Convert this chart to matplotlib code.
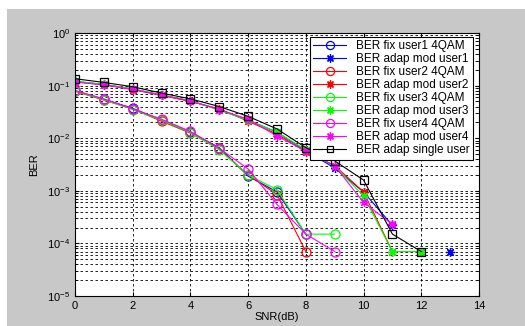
import numpy as np
import matplotlib
matplotlib.use("Agg")
import matplotlib.pyplot as plt
from matplotlib.patches import Rectangle

plt.rcParams['font.family'] = ['Liberation Sans', 'DejaVu Sans']
plt.rcParams['mathtext.default'] = 'regular'

nan = np.nan
snr = np.arange(0, 14)

# BER, fixed 4QAM per user
fix_u1 = [0.080, 0.055, 0.037, 0.022, 0.0130, 0.0066, 0.0019, 0.00095, 0.00015, nan, nan, nan, nan, nan]
fix_u2 = [0.078, 0.053, 0.036, 0.021, 0.0125, 0.0062, 0.0020, 0.00085, 0.00007, nan, nan, nan, nan, nan]
fix_u3 = [0.079, 0.054, 0.035, 0.022, 0.0128, 0.0060, 0.0020, 0.00105, 0.00015, 0.00015, nan, nan, nan, nan]
fix_u4 = [0.081, 0.056, 0.036, 0.023, 0.0135, 0.0064, 0.0026, 0.00055, 0.00015, 0.00007, nan, nan, nan, nan]

# BER, adaptive modulation per user
adap_u1 = [0.120, 0.105, 0.086, 0.066, 0.051, 0.035, 0.022, 0.013, 0.0058, 0.0027, 0.00095, 0.00022, nan, 0.00007]
adap_u2 = [0.118, 0.104, 0.084, 0.065, 0.050, 0.036, 0.021, 0.012, 0.0055, 0.0030, 0.00095, 0.00007, 0.00007, nan]
adap_u3 = [0.121, 0.106, 0.087, 0.067, 0.052, 0.034, 0.022, 0.013, 0.0060, 0.0029, 0.00080, 0.00007, 0.00007, nan]
adap_u4 = [0.117, 0.103, 0.085, 0.066, 0.051, 0.035, 0.023, 0.011, 0.0057, 0.0030, 0.00060, 0.00023, nan, nan]

# BER, adaptive single user
single = [0.135, 0.115, 0.095, 0.072, 0.056, 0.040, 0.026, 0.015, 0.0066, 0.0037, 0.0016, 0.00015, 0.00007, nan]

labels = ["BER fix user1 4QAM", "BER adap mod user1",
          "BER fix user2 4QAM", "BER adap mod user2",
          "BER fix user3 4QAM", "BER adap mod user3",
          "BER fix user4 4QAM", "BER adap mod user4",
          "BER adap single user"]

fig = plt.figure(figsize=(5.25, 3.26), dpi=100, facecolor='white')
fig.patches.append(Rectangle((7/525, 0), 1, 1 - 9/326, transform=fig.transFigure,
                             facecolor='#c8c8c8', edgecolor='none', zorder=-10))
ax = fig.add_axes([75/525, 1 - 296/326, 404/525, 263/326])
ax.set_facecolor('white')

star = (8, 2, 0)  # matlab-style asterisk
series = [(fix_u1, 'b', 'o'), (adap_u1, 'b', star),
          (fix_u2, 'r', 'o'), (adap_u2, 'r', star),
          (fix_u3, '#00ff00', 'o'), (adap_u3, '#00ff00', star),
          (fix_u4, '#ff00ff', 'o'), (adap_u4, '#ff00ff', star),
          (single, 'k', 's')]

for (vals, c, m), lab in zip(series, labels):
    ax.semilogy(snr, vals, color=c, marker=m, lw=0.8, ms=5.5 if m == 's' else 6.5,
                mfc='none', mew=0.9, label=lab)

ax.set_xlim(0, 14)
ax.set_ylim(1e-5, 1)
ax.set_xticks(range(0, 15, 2))
ax.set_yticks([1e-5, 1e-4, 1e-3, 1e-2, 1e-1, 1])
ax.grid(True, which='major', axis='both', color='k', ls=(0, (3, 3)), lw=0.6)
ax.grid(True, which='minor', axis='y', color='k', ls=(0, (3, 3)), lw=0.6)
ax.tick_params(which='both', direction='in', top=True, right=True, labelsize=8, length=3)
ax.tick_params(which='minor', length=2)
for s in ax.spines.values():
    s.set_linewidth(0.8)

ax.set_xlabel("SNR(dB)", fontsize=8, labelpad=1)
ax.set_ylabel("BER", fontsize=8, labelpad=6)

leg = ax.legend(loc='upper right', bbox_to_anchor=(0.985, 0.985), fontsize=8.5,
                fancybox=False, framealpha=1, edgecolor='k', borderpad=0.3,
                labelspacing=0.08, handlelength=2.8, handletextpad=0.8,
                borderaxespad=0, markerscale=0.9)
leg.get_frame().set_linewidth(0.8)

fig.savefig("out.png", dpi=100, facecolor=fig.get_facecolor())
